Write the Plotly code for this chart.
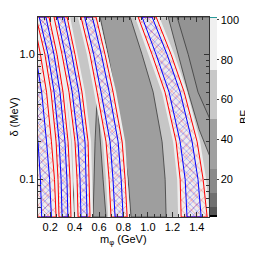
import plotly.graph_objects as go

# delta sample values (MeV) at which band edges were read
DELTA = [2.0, 1.0, 0.5, 0.2, 0.1, 0.05]

# hatched bands: red (outer) and blue (inner) edges, m_phi in GeV
A1_RED_L = [-0.10, -0.04, 0.01, 0.06, 0.08, 0.09]
A1_RED_R = [0.06, 0.12, 0.17, 0.21, 0.235, 0.248]
A1_BLU_L = [-0.06, 0.00, 0.05, 0.10, 0.12, 0.13]
A1_BLU_R = [0.02, 0.08, 0.13, 0.17, 0.195, 0.21]

A2_RED_L = [0.084, 0.157, 0.207, 0.248, 0.264, 0.272]
A2_RED_R = [0.190, 0.256, 0.305, 0.346, 0.362, 0.370]
A2_BLU_L = [0.110, 0.182, 0.232, 0.273, 0.289, 0.297]
A2_BLU_R = [0.165, 0.231, 0.280, 0.321, 0.337, 0.345]

B_RED_L = [0.231, 0.297, 0.354, 0.403, 0.420, 0.428]
B_RED_R = [0.338, 0.403, 0.460, 0.510, 0.518, 0.526]
B_BLU_L = [0.258, 0.323, 0.380, 0.428, 0.444, 0.452]
B_BLU_R = [0.312, 0.377, 0.434, 0.485, 0.494, 0.502]

C_RED_L = [0.452, 0.526, 0.584, 0.657, 0.682, 0.698]
C_RED_R = [0.575, 0.649, 0.715, 0.789, 0.813, 0.830]
C_BLU_L = [0.482, 0.556, 0.616, 0.690, 0.714, 0.731]
C_BLU_R = [0.545, 0.619, 0.683, 0.756, 0.781, 0.797]

D_RED_L = [0.920, 1.034, 1.140, 1.231, 1.264, 1.272]
D_RED_R = [1.067, 1.190, 1.297, 1.403, 1.452, 1.485]
D_BLU_L = [0.952, 1.067, 1.173, 1.264, 1.305, 1.320]
D_BLU_R = [1.034, 1.157, 1.264, 1.362, 1.410, 1.436]

# gray (BF 25-50) region between bands C and D
GCD_L = [0.608, 0.674, 0.731, 0.797, 0.838, 0.862]
GCD_R = [0.854, 0.952, 1.043, 1.116, 1.141, 1.149]

# gray regions right of band D
GR_D = [2.0, 1.0, 0.5, 0.25, 0.15]
GR_X = [1.166, 1.248, 1.330, 1.420, 1.510]
GR2_D = [2.0, 1.0, 0.5, 0.3]
GR2_X = [1.239, 1.330, 1.410, 1.510]
EDGE_X = 1.6

# darker spikes rising from the bottom
SP1_X = [0.551, 0.559, 0.567, 0.584, 0.608, 0.633, 0.657]
SP1_D = [0.05, 0.1, 0.2, 0.46, 0.2, 0.1, 0.05]
SP2_X = [0.378, 0.392, 0.400, 0.408, 0.418]
SP2_D = [0.05, 0.076, 0.10, 0.076, 0.05]

# colour bar levels (BF)
BF_MIN, BF_MAX = 0.9, 101.5
BF_LEVELS = [0.9, 2, 6, 13, 25, 50, 75, 101, 101.5]
BF_COLORS = ["#000000", "#555555", "#707070", "#8a8a8a", "#a0a0a0",
             "#c8c8c8", "#f0f0f0", "#2a9a9a"]
CB_TICKS = [20, 40, 60, 80, 100]

C_LIGHT = "#c6c6c6"
C_GRAY = "#9e9e9e"
C_GRAY2 = "#939393"
C_WHITE = "#eeeeee"


def band(L, R, d=DELTA):
    return L + R[::-1] + [L[0]], d + d[::-1] + [d[0]]


fig = go.Figure()

# gray region between C and D
x, y = band(GCD_L, GCD_R)
fig.add_trace(go.Scatter(x=x, y=y, fill="toself", fillcolor=C_GRAY, mode="lines",
                         line=dict(color="#3a3a3a", width=0.8), hoverinfo="skip"))
# region right of D
fig.add_trace(go.Scatter(x=GR_X + [EDGE_X, EDGE_X, GR_X[0]],
                         y=GR_D + [GR_D[-1], GR_D[0], GR_D[0]],
                         fill="toself", fillcolor=C_GRAY, mode="lines",
                         line=dict(color="#3a3a3a", width=0.8), hoverinfo="skip"))
fig.add_trace(go.Scatter(x=GR2_X + [EDGE_X, EDGE_X, GR2_X[0]],
                         y=GR2_D + [GR2_D[-1], GR2_D[0], GR2_D[0]],
                         fill="toself", fillcolor=C_GRAY2, mode="lines",
                         line=dict(color="#3a3a3a", width=0.8), hoverinfo="skip"))
# spikes
for sx, sd in ((SP1_X, SP1_D), (SP2_X, SP2_D)):
    fig.add_trace(go.Scatter(x=sx + [sx[0]], y=sd + [sd[0]], fill="toself",
                             fillcolor=C_GRAY, mode="lines",
                             line=dict(color="#3a3a3a", width=0.8), hoverinfo="skip"))

bands = [
    (A1_RED_L, A1_RED_R, A1_BLU_L, A1_BLU_R),
    (A2_RED_L, A2_RED_R, A2_BLU_L, A2_BLU_R),
    (B_RED_L, B_RED_R, B_BLU_L, B_BLU_R),
    (C_RED_L, C_RED_R, C_BLU_L, C_BLU_R),
    (D_RED_L, D_RED_R, D_BLU_L, D_BLU_R),
]
# white halos
for rl, rr, bl, br in bands:
    x, y = band(rl, rr)
    fig.add_trace(go.Scatter(x=x, y=y, fill="toself", fillcolor=C_WHITE, mode="lines",
                             line=dict(color=C_WHITE, width=6), hoverinfo="skip"))
# red and blue hatching
for rl, rr, bl, br in bands:
    x, y = band(rl, rr)
    fig.add_trace(go.Scatter(x=x, y=y, fill="toself", mode="lines",
                             line=dict(color="red", width=1),
                             fillpattern=dict(shape="x", fgcolor="red",
                                              bgcolor="rgba(0,0,0,0)", size=7, solidity=0.15),
                             hoverinfo="skip"))
    x, y = band(bl, br)
    fig.add_trace(go.Scatter(x=x, y=y, fill="toself", mode="lines",
                             line=dict(color="blue", width=1),
                             fillpattern=dict(shape="x", fgcolor="blue",
                                              bgcolor="rgba(0,0,0,0)", size=5, solidity=0.2),
                             hoverinfo="skip"))

# colour bar
span = BF_MAX - BF_MIN
cs = []
for i, col in enumerate(BF_COLORS):
    cs.append([(BF_LEVELS[i] - BF_MIN) / span, col])
    cs.append([(BF_LEVELS[i + 1] - BF_MIN) / span, col])
cs[-1][0] = 1.0
fig.add_trace(go.Scatter(
    x=[None], y=[None], mode="markers", hoverinfo="skip",
    marker=dict(color=[50], colorscale=cs, cmin=BF_MIN, cmax=BF_MAX, showscale=True,
                colorbar=dict(x=1.006, xanchor="left", xpad=0, y=0.5, yanchor="middle",
                              ypad=0, len=1, thickness=7, outlinewidth=0,
                              tickvals=CB_TICKS, ticktext=[str(v) for v in CB_TICKS],
                              ticks="outside", ticklen=2, tickcolor="#444",
                              tickfont=dict(size=11)))))

fig.add_annotation(text="BF", xref="paper", yref="paper", x=1.205, y=0.5,
                   textangle=-90, showarrow=False, font=dict(size=11),
                   xanchor="center", yanchor="middle")
fig.add_annotation(text="m<sub>φ</sub> (GeV)", xref="paper", yref="paper", x=0.5, y=-0.115,
                   showarrow=False, font=dict(size=11), xanchor="center", yanchor="middle")

# the page body adds an 8 px offset, so margins are set 8 px smaller on the left/top
fig.update_layout(
    width=253, height=253,
    margin=dict(l=30, r=52, t=9, b=44, autoexpand=False),
    showlegend=False,
    paper_bgcolor="white", plot_bgcolor=C_LIGHT,
    font=dict(family="Liberation Sans, Arial, sans-serif", size=11, color="black"),
)
fig.update_xaxes(range=[0.1, 1.5], tickvals=[0.2, 0.4, 0.6, 0.8, 1.0, 1.2, 1.4],
                 ticktext=["0.2", "0.4", "0.6", "0.8", "1.0", "1.2", "1.4"],
                 ticks="inside", ticklen=5, tickcolor="#333", showgrid=False, zeroline=False,
                 showline=True, linecolor="#333", linewidth=1, mirror="ticks",
                 minor=dict(dtick=0.05, ticks="inside", ticklen=3, tickcolor="#333", showgrid=False))
fig.update_yaxes(type="log", range=[-1.30103, 0.30103], tickvals=[0.1, 1.0],
                 ticktext=["0.1", "1.0"],
                 ticks="inside", ticklen=5, tickcolor="#333", showgrid=False, zeroline=False,
                 showline=True, linecolor="#333", linewidth=1, mirror="ticks",
                 minor=dict(tickvals=[0.05, 0.06, 0.07, 0.08, 0.09, 0.2, 0.3, 0.4, 0.5,
                                      0.6, 0.7, 0.8, 0.9, 2.0],
                            ticks="inside", ticklen=3, tickcolor="#333", showgrid=False),
                 title=dict(text="δ (MeV)", standoff=1, font=dict(size=11)))

fig.write_html("out.html")
